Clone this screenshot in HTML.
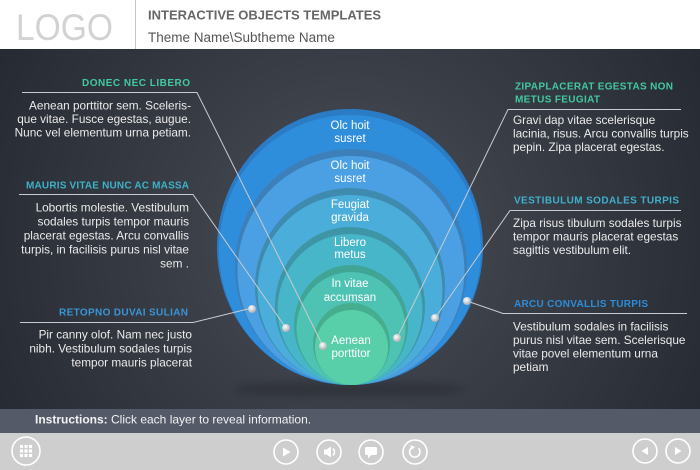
<!DOCTYPE html>
<html><head><meta charset="utf-8"><style>
html,body{margin:0;padding:0;background:#2b2f38;}
svg{display:block}
text{font-family:"Liberation Sans",Arial,sans-serif;}
</style></head><body>
<svg width="700" height="470" viewBox="0 0 700 470" xmlns="http://www.w3.org/2000/svg">
<defs>
<radialGradient id="bg" cx="350" cy="240" r="430" gradientUnits="userSpaceOnUse">
 <stop offset="0" stop-color="#4c505a"/>
 <stop offset="0.4" stop-color="#3a3e47"/>
 <stop offset="1" stop-color="#23272f"/>
</radialGradient>
<radialGradient id="dot" cx="0.4" cy="0.35" r="0.7">
 <stop offset="0" stop-color="#ffffff"/>
 <stop offset="1" stop-color="#a4a8ae"/>
</radialGradient>
<filter id="blur" x="-20%" y="-50%" width="140%" height="200%"><feGaussianBlur stdDeviation="4"/></filter>
</defs>

<!-- header -->
<rect x="0" y="0" width="700" height="49" fill="#ffffff"/>
<line x1="135.5" y1="0" x2="135.5" y2="49" stroke="#c4c4c4" stroke-width="1"/>
<text x="16" y="40" font-size="37" fill="#d2d2d2" textLength="97" lengthAdjust="spacingAndGlyphs">LOGO</text>
<text x="148" y="19.5" font-size="13" font-weight="bold" fill="#666666">INTERACTIVE OBJECTS TEMPLATES</text>
<text x="148" y="42" font-size="13.5" fill="#555555">Theme Name\Subtheme Name</text>

<!-- main bg -->
<rect x="0" y="49" width="700" height="360" fill="url(#bg)"/>
<ellipse cx="350" cy="389" rx="115" ry="8" fill="#000" opacity="0.18" filter="url(#blur)"/>

<!-- circles -->
<ellipse cx="350" cy="247" rx="133" ry="138" fill="#2a7cc6"/>
<ellipse cx="350" cy="250" rx="131" ry="135" fill="#2f8edb"/>

<ellipse cx="351" cy="267" rx="116" ry="118" fill="#3d7fb8"/>
<ellipse cx="351" cy="270.5" rx="113.5" ry="114.5" fill="#4aa0e2"/>

<ellipse cx="350" cy="286.5" rx="95" ry="98.5" fill="#3f8bb0"/>
<ellipse cx="350" cy="290" rx="92.5" ry="95" fill="#4badd9"/>

<ellipse cx="350" cy="306" rx="75" ry="79" fill="#3d95a6"/>
<ellipse cx="350" cy="309.5" rx="72.5" ry="75.5" fill="#47b6c9"/>

<ellipse cx="351" cy="325" rx="57" ry="60" fill="#41a596"/>
<ellipse cx="351" cy="328.5" rx="54.5" ry="56.5" fill="#4ec3b3"/>

<ellipse cx="351.5" cy="344" rx="38.5" ry="41" fill="#46ad8e"/>
<ellipse cx="351.5" cy="347.5" rx="36.5" ry="37.5" fill="#58cfa8"/>

<!-- circle labels -->
<g font-size="11.5" fill="#ffffff" text-anchor="middle">
<text x="350" y="129">Olc hoit</text><text x="350" y="142">susret</text>
<text x="350" y="169">Olc hoit</text><text x="350" y="182">susret</text>
<text x="350" y="208">Feugiat</text><text x="350" y="221">gravida</text>
<text x="350" y="246">Libero</text><text x="350" y="258">metus</text>
<text x="350" y="287">In vitae</text><text x="350" y="301">accumsan</text>
<text x="351" y="344">Aenean</text><text x="351" y="357">porttitor</text>
</g>

<!-- connectors -->
<g fill="none" stroke="#c9cbcf" stroke-width="1">
<polyline points="22,92.5 197,92.5 323,346"/>
<polyline points="19,194.5 193,194.5 286,328"/>
<polyline points="20,322.5 193,322.5 252,308"/>
<polyline points="681,109.5 508,109.5 397,338"/>
<polyline points="681,210.5 510,210.5 435,318"/>
<polyline points="687,313.5 503,313.5 467,301"/>
</g>
<g fill="url(#dot)">
<circle cx="323" cy="346" r="4"/>
<circle cx="286" cy="328" r="4"/>
<circle cx="252" cy="309" r="4"/>
<circle cx="397" cy="338" r="4"/>
<circle cx="435" cy="318" r="4"/>
<circle cx="467" cy="301" r="4"/>
</g>

<!-- left headings -->
<g font-size="10" font-weight="bold" text-anchor="end">
<text x="190" y="86" fill="#42c9a1" textLength="108" lengthAdjust="spacing">DONEC NEC LIBERO</text>
<text x="189" y="188.6" fill="#3fb2c9" textLength="163" lengthAdjust="spacing">MAURIS VITAE NUNC AC MASSA</text>
<text x="188" y="315.3" fill="#3a95d6" textLength="129" lengthAdjust="spacing">RETOPNO DUVAI SULIAN</text>
</g>
<!-- right headings -->
<g font-size="10" font-weight="bold">
<text x="515" y="89.6" fill="#42c9a1" textLength="158" lengthAdjust="spacing">ZIPAPLACERAT EGESTAS NON</text>
<text x="515" y="102.3" fill="#42c9a1" textLength="85" lengthAdjust="spacing">METUS FEUGIAT</text>
<text x="514" y="203.6" fill="#3fb0cc" textLength="165" lengthAdjust="spacing">VESTIBULUM SODALES TURPIS</text>
<text x="514" y="307" fill="#2e8cd8" textLength="134" lengthAdjust="spacing">ARCU CONVALLIS TURPIS</text>
</g>

<!-- left paragraphs -->
<g font-size="11.8" fill="#ebebeb" text-anchor="end">
<text x="191" y="109.5">Aenean porttitor sem. Sceleris-</text>
<text x="191" y="123">que vitae. Fusce egestas, augue.</text>
<text x="191" y="136.5">Nunc vel elementum urna petiam.</text>

<text x="189" y="211.5">Lobortis molestie. Vestibulum</text>
<text x="189" y="225.5">sodales turpis tempor mauris</text>
<text x="189" y="239.5">placerat egestas. Arcu convallis</text>
<text x="189" y="253.5">turpis, in facilisis purus nisl vitae</text>
<text x="189" y="267.5">sem .</text>

<text x="192" y="338.5">Pir canny olof. Nam nec justo</text>
<text x="192" y="352.5">nibh. Vestibulum sodales turpis</text>
<text x="192" y="366.5">tempor mauris placerat</text>
</g>

<!-- right paragraphs -->
<g font-size="11.8" fill="#ebebeb">
<text x="513" y="124">Gravi dap vitae scelerisque</text>
<text x="513" y="137.5">lacinia, risus. Arcu convallis turpis</text>
<text x="513" y="151">pepin. Zipa placerat egestas.</text>

<text x="513" y="227">Zipa risus tibulum sodales turpis</text>
<text x="513" y="240.5">tempor mauris placerat egestas</text>
<text x="513" y="254">sagittis vestibulum elit.</text>

<text x="513" y="330.5">Vestibulum sodales in facilisis</text>
<text x="513" y="344">purus nisl vitae sem. Scelerisque</text>
<text x="513" y="357.5">vitae povel elementum urna</text>
<text x="513" y="371">petiam</text>
</g>

<!-- instruction bar -->
<rect x="0" y="409" width="700" height="24" fill="#555a69"/>
<text x="35" y="423.5" font-size="12" fill="#f2f2f2"><tspan font-weight="bold">Instructions:</tspan> Click each layer to reveal information.</text>

<!-- toolbar -->
<rect x="0" y="433" width="700" height="37" fill="#cdcecd"/>
<g fill="none" stroke="#ffffff" stroke-width="1.6">
<circle cx="26" cy="451" r="14"/>
<circle cx="286" cy="452" r="12"/>
<circle cx="329" cy="452" r="12"/>
<circle cx="371" cy="452" r="12"/>
<circle cx="415" cy="452" r="12"/>
<circle cx="645" cy="451" r="12"/>
<circle cx="678" cy="451" r="12"/>
<path d="M333,448.5 Q336,452 333,455.5"/>
<path d="M412.5,447.2 A5.2,5.2 0 1 0 418.5,448.3"/>
</g>
<g fill="#ffffff">
<rect x="19.9" y="444.9" width="3.2" height="3.2"/><rect x="24.4" y="444.9" width="3.2" height="3.2"/><rect x="28.9" y="444.9" width="3.2" height="3.2"/>
<rect x="19.9" y="449.4" width="3.2" height="3.2"/><rect x="24.4" y="449.4" width="3.2" height="3.2"/><rect x="28.9" y="449.4" width="3.2" height="3.2"/>
<rect x="19.9" y="453.9" width="3.2" height="3.2"/><rect x="24.4" y="453.9" width="3.2" height="3.2"/><rect x="28.9" y="453.9" width="3.2" height="3.2"/>
<polygon points="283,447.5 283,456.5 290.5,452"/>
<rect x="324" y="449.5" width="3" height="5"/>
<polygon points="326.5,449.5 331,446.5 331,457.5 326.5,454.5"/>
<rect x="365" y="447" width="12" height="8" rx="1.5"/>
<polygon points="368,454.5 368,458.5 372,454.5"/>
<polygon points="410.5,445 415,447 411.5,450"/>
<polygon points="648,447 648,455 641.5,451"/>
<polygon points="675,447 675,455 681.5,451"/>
</g>
</svg>
</body></html>
